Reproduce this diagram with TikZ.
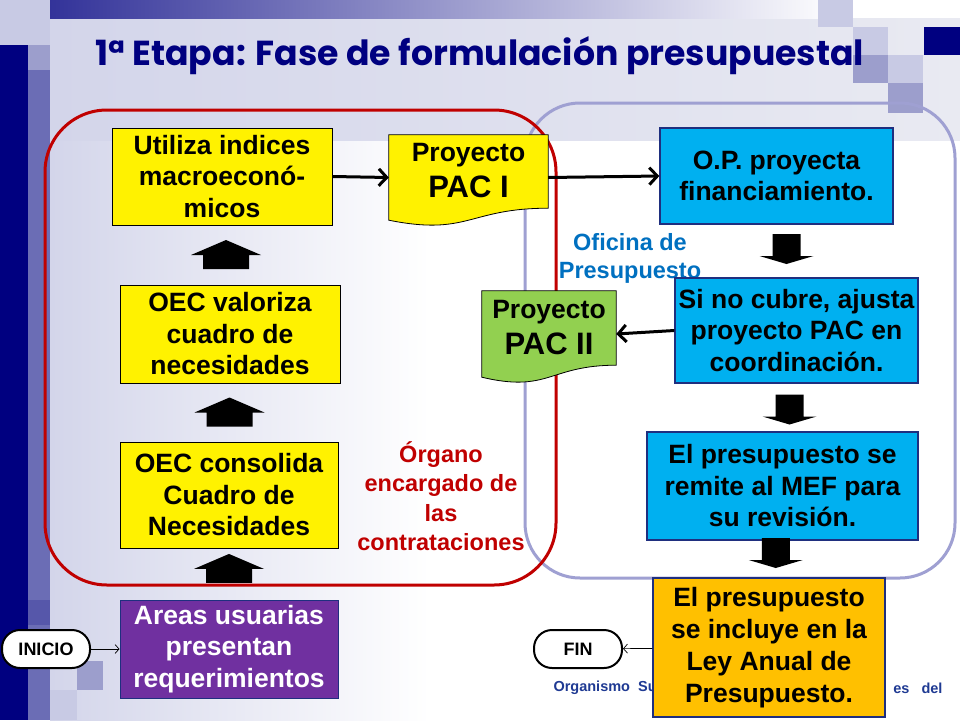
\documentclass[tikz,border=0pt]{standalone}
\usepackage{fontspec}
\setmainfont{Liberation Sans}
\newfontfamily\titlefont{Poppins}
\usetikzlibrary{positioning,arrows.meta,calc}
\definecolor{navy}{HTML}{000080}
\definecolor{strip}{HTML}{6B6DB5}
\definecolor{lav}{HTML}{D3D5EA}
\definecolor{lavmid}{HTML}{9C9ECC}
\definecolor{lavlight}{HTML}{C8CAE4}
\definecolor{band}{HTML}{E9EAF2}
\definecolor{ring}{HTML}{9FA0D2}
\definecolor{wine}{HTML}{C00000}
\definecolor{ofblue}{HTML}{0070C0}
\definecolor{skyfill}{HTML}{00B0F0}
\definecolor{skyline}{HTML}{1F2F7F}
\definecolor{gold}{HTML}{FFC000}
\definecolor{grape}{HTML}{7030A0}
\definecolor{leaf}{HTML}{92D050}
\definecolor{foot}{HTML}{1F3A93}
\pgfdeclarelayer{back}
\pgfdeclarelayer{docs}
\pgfsetlayers{back,docs,main}

\begin{document}
\begin{tikzpicture}[x=1pt,y=-1pt,
    txt/.style={font=\fontsize{26.5}{31.5}\selectfont\bfseries,align=center,inner sep=0pt},
    ybox/.style={txt,draw=black,line width=0.8pt,fill=yellow},
    bbox/.style={txt,draw=skyline,line width=1.3pt,fill=skyfill},
    doc/.style={align=center,inner sep=0pt,font=\fontsize{31}{36}\selectfont\bfseries},
    pill/.style={draw,line width=2pt,fill=white,rounded corners=18pt,minimum width=88pt,minimum height=38pt,font=\fontsize{18}{20}\selectfont\bfseries},
    link/.style={line width=3pt,-{Straight Barb[length=8pt,width=17pt]}},
    thinlink/.style={line width=0.7pt,-{Straight Barb[length=4pt,width=9pt]}},
    uparr/.pic={\fill (-23,14) -- (-23,0) -- (-35,0) -- (0,-15) -- (35,0) -- (23,0) -- (23,14) -- cycle;},
    dnarr/.pic={\fill (-14,-17) -- (14,-17) -- (14,5) -- (27,5) -- (0,13) -- (-27,5) -- (-14,5) -- cycle;}]
\useasboundingbox (0,0) rectangle (960,720);
\begin{pgfonlayer}{back}
  \fill[white] (50,0) rectangle (960,720);
  \shade[left color=lav,right color=white] (50,140) rectangle (430,720);
  \shade[left color=lav,right color=band] (50,18) rectangle (960,140);
  \shade[left color=navy!80!white,right color=white] (50,0) rectangle (840,18);
  \fill[navy] (0,45) rectangle (28,720);
  \fill[lavlight] (0,0) rectangle (50,18);
  \fill[lavlight] (0,18) rectangle (28,45);
  \fill[lavlight] (28,18) rectangle (50,45);
  \fill[lavmid] (28,45) rectangle (50,70);
  \fill[strip] (28,70) rectangle (50,720);
  \fill[strip!80!navy] (28,600) rectangle (50,625);
  \fill[lavmid] (77,661) rectangle (103,690);
  \fill[lavlight] (50,690) rectangle (77,720);
  \fill[lavlight] (818,0) rectangle (853,27);
  \fill[lavlight] (853,27) rectangle (888,55);
  \fill[lavmid] (853,55) rectangle (888,83);
  \fill[lavlight] (888,55) rectangle (923,83);
  \fill[lavmid] (888,83) rectangle (923,113);
  \fill[navy] (924,27) rectangle (960,55);
  \draw[ring,line width=3pt,rounded corners=55pt] (525,103) rectangle (955,578);
  \draw[wine,line width=3pt,rounded corners=62pt] (45,110) rectangle (556,585);
\end{pgfonlayer}

\node[font=\titlefont\bfseries\fontsize{34.7}{40}\selectfont,text=navy,anchor=base] (title) at (480,65) {1ª Etapa: Fase de formulación presupuestal};

\node[font=\fontsize{23.5}{29.5}\selectfont\bfseries,text=wine,align=center] (organo) at (441,496) {Órgano\\encargado de\\las\\contrataciones};
\node[font=\fontsize{23.5}{28}\selectfont\bfseries,text=ofblue,align=center] (oficina) at (630,258) {Oficina de\\Presupuesto};
\node[font=\fontsize{14.5}{16}\selectfont\bfseries,text=foot,anchor=west] (footl) at (550,688) {Organismo\hspace{4pt} Su};
\node[font=\fontsize{14.5}{16}\selectfont\bfseries,text=foot,anchor=east] (footr) at (946,688) {es\hspace{8pt} del};

\node[ybox,minimum width=220pt,minimum height=97pt] (util) at (222,176.5) {Utiliza indices\\macroeconó-\\micos};
\node[ybox,minimum width=220pt,minimum height=98pt] (oecv) at (230,334) {OEC valoriza\\cuadro de\\necesidades};
\node[ybox,minimum width=218pt,minimum height=106pt] (oecc) at (229,495) {OEC consolida\\Cuadro de\\Necesidades};
\node[txt,draw=skyline,line width=1pt,fill=grape,text=white,minimum width=218pt,minimum height=98pt] (areas) at (229,649) {Areas usuarias\\presentan\\requerimientos};

\node[bbox,minimum width=233pt,minimum height=96pt] (op) at (776.5,176) {O.P. proyecta\\financiamiento.};
\node[bbox,minimum width=243pt,minimum height=105pt] (sino) at (796.5,330.5) {Si no cubre, ajusta\\proyecto PAC en\\coordinación.};
\node[bbox,minimum width=271pt,minimum height=108pt] (remite) at (782.5,486) {El presupuesto se\\remite al MEF para\\su revisión.};
\node[txt,draw=skyline,line width=1.3pt,fill=gold,font=\fontsize{26.5}{32}\selectfont\bfseries,minimum width=232pt,minimum height=139pt] (ley) at (769,647.5) {El presupuesto\\se incluye en la\\Ley Anual de\\Presupuesto.};

\node[doc,minimum width=159pt,minimum height=85pt] (pac1) at (468.5,177.5) {{\fontsize{26.5}{30}\selectfont Proyecto}\\PAC I\rule[-14pt]{0pt}{1pt}};
\node[doc,minimum width=134pt,minimum height=86pt] (pac2) at (549,334) {{\fontsize{26.5}{30}\selectfont Proyecto}\\PAC II\rule[-14pt]{0pt}{1pt}};
\begin{pgfonlayer}{docs}
  \filldraw[fill=yellow,draw=black,line width=0.8pt] (pac1.north west) -- (pac1.north east) -- ($(pac1.south east)+(0,-12)$) .. controls ($(pac1.south)+(0,-12)$) and ($(pac1.south)+(0,16)$) .. (pac1.south west) -- cycle;
  \filldraw[fill=leaf,draw=black,line width=0.8pt] (pac2.north west) -- (pac2.north east) -- ($(pac2.south east)+(0,-12)$) .. controls ($(pac2.south)+(0,-12)$) and ($(pac2.south)+(0,16)$) .. (pac2.south west) -- cycle;
\end{pgfonlayer}

\node[pill] (inicio) at (46,649) {INICIO};
\node[pill] (fin) at (578,649) {FIN};

\pic at ($(util.south)!0.5!(oecv.north)$) {uparr};
\pic at ($(oecv.south)!0.5!(oecc.north)$) {uparr};
\pic at ($(oecc.south)!0.5!(areas.north)+(0,-5)$) {uparr};
\pic at ($(op.south)!0.5!(sino.north)$) {dnarr};
\pic at ($(sino.south)!0.5!(remite.north)+(0,4)$) {dnarr};
\pic at ($(remite.south)!0.5!(ley.north)+(0,-4)$) {dnarr};

\draw[link] (util.east) -- (pac1.west);
\draw[link] (pac1.east) -- (op.west);
\draw[link] (sino.west) -- (pac2.east);
\draw[thinlink] (inicio) -- (areas);
\draw[thinlink] (ley) -- (fin);
\end{tikzpicture}
\end{document}
